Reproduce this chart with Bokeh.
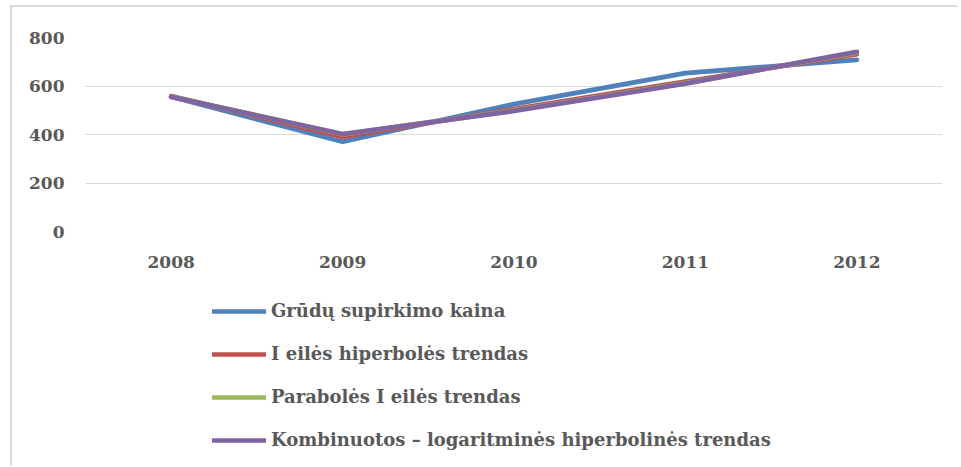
from bokeh.plotting import figure
from bokeh.layouts import column
from bokeh.models import Range1d, FixedTicker, Legend, LegendItem
from bokeh.embed import file_html
from bokeh.resources import INLINE

years = ["2008", "2009", "2010", "2011", "2012"]
grudu_kaina = [556, 370, 525, 653, 708]
hiperboles_trendas = [558, 390, 505, 618, 731]
paraboles_trendas = [556, 401, 499, 612, 738]
kombinuotos_trendas = [555, 402, 497, 610, 741]
y_ticks = [0, 200, 400, 600, 800]

series = [
    ("Grūdų supirkimo kaina", grudu_kaina, "#4F81BD"),
    ("I eilės hiperbolės trendas", hiperboles_trendas, "#C0504D"),
    ("Parabolės I eilės trendas", paraboles_trendas, "#9BBB59"),
    ("Kombinuotos – logaritminės hiperbolinės trendas", kombinuotos_trendas, "#8064A2"),
]

W = 945
p = figure(x_range=years, width=W, height=274, output_backend="svg",
           toolbar_location=None, min_border_left=73, min_border_right=15,
           min_border_top=30, min_border_bottom=50)
p.y_range = Range1d(0, 800)
p.outline_line_color = None
p.background_fill_color = "white"
p.border_fill_color = "white"

for name, vals, col in series:
    p.line(years, vals, line_color=col, line_width=4.8,
           line_join="round", line_cap="round")

p.xgrid.grid_line_color = None
p.ygrid.grid_line_color = "#d9d9d9"
p.ygrid.grid_line_width = 1
p.yaxis.ticker = FixedTicker(ticks=y_ticks)

for ax in (p.xaxis[0], p.yaxis[0]):
    ax.axis_line_color = None
    ax.major_tick_line_color = None
    ax.minor_tick_line_color = None
    ax.major_tick_out = 0
    ax.major_tick_in = 0
    ax.major_label_text_font = "DejaVu Serif"
    ax.major_label_text_font_style = "bold"
    ax.major_label_text_font_size = "17px"
    ax.major_label_text_color = "#595959"
p.yaxis.major_label_standoff = 21
p.xaxis.major_label_standoff = 24

# legend panel (its frame is aligned with the chart frame by the column layout)
p2 = figure(width=W, height=184, output_backend="svg", toolbar_location=None,
            x_range=Range1d(0, 1), y_range=Range1d(0, 1),
            min_border_left=0, min_border_right=0, min_border_top=0, min_border_bottom=0)
p2.axis.visible = False
p2.grid.visible = False
p2.outline_line_color = None
p2.background_fill_color = "white"
p2.border_fill_color = "white"

nan = float("nan")
items = []
for name, vals, col in series:
    r = p2.line(x=[nan], y=[nan], line_color=col, line_width=4.5, line_cap="round")
    items.append(LegendItem(label=name, renderers=[r]))

legend = Legend(items=items, location=(127, 15), orientation="vertical",
                glyph_width=54, glyph_height=20, label_height=20,
                label_standoff=5, spacing=22, padding=0, margin=0,
                border_line_color=None, background_fill_alpha=0,
                label_text_font="DejaVu Serif", label_text_font_style="bold",
                label_text_font_size="18px", label_text_color="#595959")
p2.add_layout(legend, "center")

layout = column(p, p2, spacing=0)
layout.styles = {"border-left": "2px solid #d9d9d9", "border-top": "2px solid #d9d9d9",
                 "margin-left": "10px", "margin-top": "5px"}

open("out.html", "w").write(file_html(layout, INLINE))
